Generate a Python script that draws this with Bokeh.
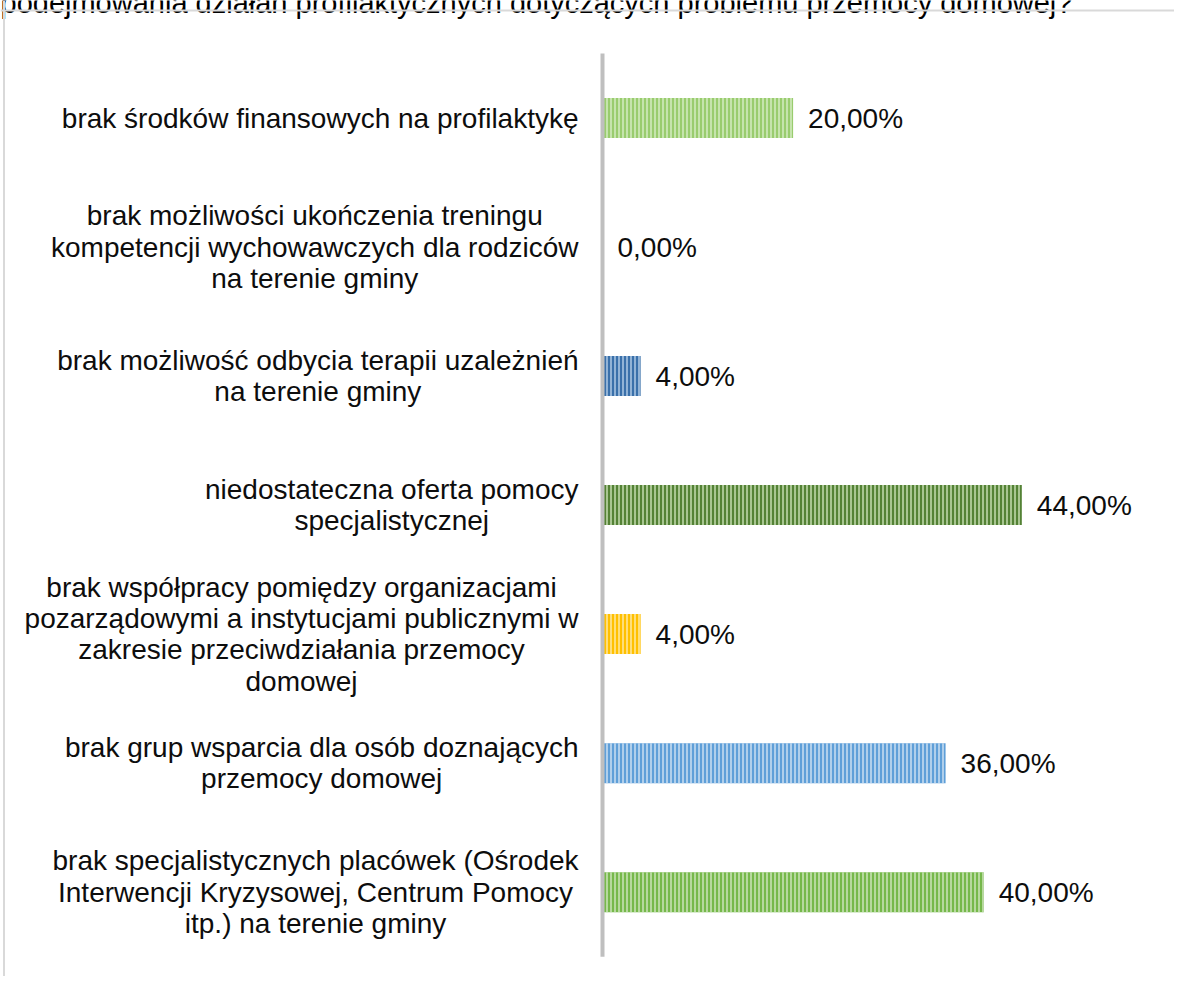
from bokeh.plotting import figure
from bokeh.models import Range1d, ColumnDataSource, Span, Label
from bokeh.core.properties import value
from bokeh.embed import file_html
from bokeh.resources import INLINE

# ---- data ----
title_text = "podejmowania działań profilaktycznych dotyczących problemu przemocy domowej?"
categories = [
    "brak środków finansowych na profilaktykę",
    "brak możliwości ukończenia treningu\nkompetencji wychowawczych dla rodziców\nna terenie gminy",
    "brak możliwość odbycia terapii uzależnień\nna terenie gminy",
    "niedostateczna oferta pomocy\nspecjalistycznej",
    "brak współpracy pomiędzy organizacjami\npozarządowymi a instytucjami publicznymi w\nzakresie przeciwdziałania przemocy\ndomowej",
    "brak grup wsparcia dla osób doznających\nprzemocy domowej",
    "brak specjalistycznych placówek (Ośrodek\nInterwencji Kryzysowej, Centrum Pomocy\nitp.) na terenie gminy",
]
values = [20.0, 0.0, 4.0, 44.0, 4.0, 36.0, 40.0]
fill_colors = ["#99cc6e", "#8fc963", "#3a70aa", "#548235", "#ffc000", "#5f9fd8", "#76b84b"]
hatch_colors = ["#d7edc5", "#d7edc5", "#b4cde8", "#c9e0b5", "#ffeaa8", "#cfe2f3", "#cfe6bf"]

# ---- layout constants (canvas pixels) ----
W, H = 1174, 976
X0_PX = 602.0        # px of 0 %
PX_PER_PCT = 9.53
Y0_PX = 117.5        # px of first category centre
PX_PER_CAT = 129.03
FONT = "Liberation Sans"
FS = 28

def px_x(px):
    return (px - X0_PX) / PX_PER_PCT

def px_y(px):
    return (px - Y0_PX) / PX_PER_CAT

# Arial / Liberation Sans advance widths (1/1000 em)
AW = {
    'a': 556, 'b': 556, 'c': 500, 'd': 556, 'e': 556, 'f': 278, 'g': 556, 'h': 556,
    'i': 222, 'j': 222, 'k': 500, 'l': 222, 'm': 833, 'n': 556, 'o': 556, 'p': 556,
    'q': 556, 'r': 333, 's': 500, 't': 278, 'u': 556, 'v': 500, 'w': 722, 'x': 500,
    'y': 500, 'z': 500, 'ą': 556, 'ć': 500, 'ę': 556, 'ł': 222, 'ń': 556, 'ó': 556,
    'ś': 500, 'ź': 500, 'ż': 500, 'C': 722, 'I': 278, 'K': 667, 'O': 778, 'Ó': 778,
    'P': 667, ' ': 278, '(': 333, ')': 333, '.': 278, ',': 278, '%': 889, '?': 556,
}

def text_w(s):
    return max(sum(AW.get(ch, 556) for ch in line) for line in s.split("\n")) * FS / 1000.0

n = len(categories)
idx = list(range(n))
value_labels = [("%.2f" % v).replace(".", ",") + "%" for v in values]
label_offsets = [-(24 + text_w(c) / 2.0) for c in categories]

src = ColumnDataSource(dict(
    y=idx, v=values, cat=categories, vlab=value_labels, off=label_offsets,
    fill=fill_colors, hatch=hatch_colors,
))

p = figure(
    width=W, height=H, output_backend="svg", toolbar_location=None,
    x_range=Range1d(px_x(0), px_x(W)),
    y_range=Range1d(start=px_y(H), end=px_y(0)),
    x_axis_location=None, y_axis_location=None,
    min_border=0, outline_line_color=None,
    background_fill_color="white", border_fill_color="white",
)
p.grid.visible = False

p.hbar(y="y", left=0, right="v", height=0.31, source=src,
       fill_color="fill", line_color=None,
       hatch_pattern="vertical_line", hatch_color="hatch",
       hatch_scale=4, hatch_weight=1.6, hatch_alpha=0.9)

# vertical axis line
p.segment(x0=[0], y0=[-0.5], x1=[0], y1=[n - 0.5], line_color="#bfbfbf", line_width=4)

# value labels
p.text(x="v", y="y", text="vlab", source=src, x_offset=15,
       text_align="left", text_baseline="middle",
       text_font=value(FONT), text_font_size=f"{FS}px", text_color="#0d0d0d")

# category labels (centred lines, block right edge just left of the axis)
p.text(x=0, y="y", text="cat", source=src, x_offset="off",
       text_align="center", text_baseline="middle", text_line_height=1.01,
       text_font=value(FONT), text_font_size=f"{FS}px", text_color="#0d0d0d")

# clipped title line at the very top (as in the reference)
p.add_layout(Label(x=px_x(0), y=px_y(2), text=title_text,
                   text_font=FONT, text_font_size="29px",
                   text_baseline="alphabetic", text_align="left", text_color="#000000"))

# chart frame border (top and left)
p.add_layout(Span(location=px_y(10), dimension="width", line_color="#d9d9d9", line_width=2))
p.add_layout(Span(location=px_x(3.5), dimension="height", line_color="#d9d9d9", line_width=2))

open("out.html", "w").write(file_html(p, INLINE))
